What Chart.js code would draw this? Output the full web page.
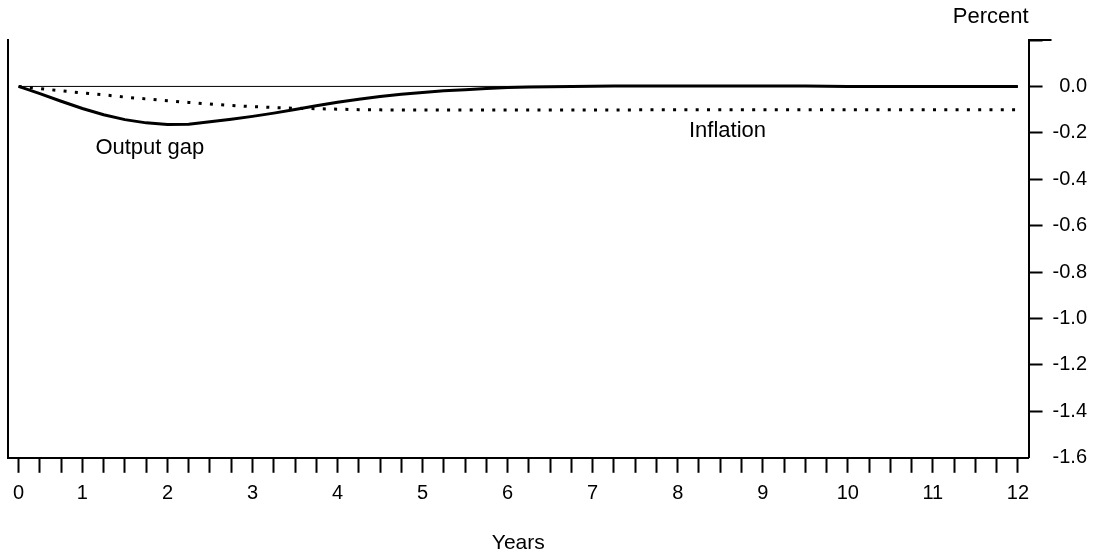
<!DOCTYPE html>
<html>
<head>
<meta charset="utf-8">
<script src="https://cdn.jsdelivr.net/npm/chart.js@4"></script>
<style>
  html, body { margin: 0; padding: 0; background: #fff; }
  #marco { width: 1102px; height: 556px; }
</style>
</head>
<body>
<div id="marco"><canvas id="grafico"></canvas></div>
<script>
// Datos trimestrales (1..48)
const quarters = [
  1, 2, 3, 4, 5, 6, 7, 8, 9, 10, 11, 12,
  13, 14, 15, 16, 17, 18, 19, 20, 21, 22, 23, 24,
  25, 26, 27, 28, 29, 30, 31, 32, 33, 34, 35, 36,
  37, 38, 39, 40, 41, 42, 43, 44, 45, 46, 47, 48
];

const outputGap = [
  0, -0.031, -0.064, -0.095, -0.122, -0.143, -0.157, -0.164, -0.163, -0.152, -0.141, -0.129,
  -0.115, -0.099, -0.083, -0.068, -0.055, -0.043, -0.034, -0.026, -0.019, -0.014, -0.009, -0.005,
  -0.003, -0.001, 0.000, 0.001, 0.002, 0.002, 0.002, 0.002, 0.002, 0.002, 0.002, 0.002,
  0.002, 0.002, 0.001, 0, 0, 0, 0, 0, 0, 0, 0, 0
];

const inflation = [
  0, -0.009, -0.019, -0.028, -0.036, -0.046, -0.054, -0.062, -0.069, -0.076, -0.082, -0.087,
  -0.091, -0.094, -0.096, -0.098, -0.100, -0.101, -0.102, -0.102, -0.102, -0.102, -0.102, -0.102,
  -0.102, -0.102, -0.102, -0.102, -0.102, -0.101, -0.101, -0.101, -0.101, -0.101, -0.101, -0.101,
  -0.101, -0.100, -0.100, -0.100, -0.100, -0.100, -0.100, -0.100, -0.100, -0.100, -0.100, -0.100
];

// Línea de cero (del primer al último trimestre)
const zeroLine = [{ x: 1, y: 0 }, { x: 48, y: 0 }];

// Eje vertical
const yMin = -1.6;
const yMax = 0.2;
const yStep = 0.2;

const negro = '#000';
const fuente = '"Liberation Sans", Arial, sans-serif';

Chart.defaults.font.family = fuente;
Chart.defaults.font.size = 20;
Chart.defaults.color = negro;

// Etiqueta de años: "0" en el primer trimestre, luego cada 4 trimestres
function etiquetaAnio(index) {
  if (index === 0) return '0';
  if ((index + 1) % 4 === 0) return String((index + 1) / 4);
  return '';
}

// Textos y remate superior del eje derecho
const notas = {
  id: 'notas',
  afterDraw(chart) {
    const { ctx, chartArea, scales } = chart;
    const x = scales.x;
    const y = scales.y;
    ctx.save();
    ctx.fillStyle = negro;
    ctx.font = '22px ' + fuente;
    ctx.textBaseline = 'middle';
    ctx.textAlign = 'left';
    ctx.fillText('Output gap', x.getPixelForValue(3.61), y.getPixelForValue(-0.266));
    ctx.fillText('Inflation', x.getPixelForValue(31.53), y.getPixelForValue(-0.193));
    ctx.textAlign = 'right';
    ctx.fillText('Percent', chartArea.right, 17);

    const yTop = y.getPixelForValue(yMax);
    ctx.strokeStyle = negro;
    ctx.lineWidth = 2;
    ctx.beginPath();
    ctx.moveTo(chartArea.right, yTop);
    ctx.lineTo(chartArea.right + 23, yTop);
    ctx.stroke();
    ctx.restore();
  }
};

const ctx = document.getElementById('grafico').getContext('2d');
const grafico = new Chart(ctx, {
  type: 'line',
  data: {
    labels: quarters,
    datasets: [
      {
        label: 'Output gap',
        data: outputGap,
        borderColor: negro,
        borderWidth: 3,
        pointRadius: 0,
        tension: 0,
        yAxisID: 'y',
      },
      {
        label: 'Inflation',
        data: inflation,
        borderColor: negro,
        borderWidth: 3,
        borderDash: [3, 8.3],
        borderCapStyle: 'butt',
        pointRadius: 0,
        tension: 0,
        yAxisID: 'y',
      },
      {
        label: 'cero',
        data: zeroLine,
        borderColor: negro,
        borderWidth: 1,
        pointRadius: 0,
        yAxisID: 'y',
      },
    ],
  },
  options: {
    responsive: true,
    maintainAspectRatio: false,
    animation: false,
    layout: {
      padding: { left: 8, top: 40, right: 15, bottom: 0 },
    },
    plugins: {
      legend: { display: false },
      tooltip: { enabled: false },
    },
    scales: {
      x: {
        type: 'category',
        position: 'bottom',
        offset: true,
        ticks: {
          autoSkip: false,
          maxRotation: 0,
          padding: 9,
          callback: (v, i) => etiquetaAnio(i),
        },
        grid: {
          offset: false,
          drawOnChartArea: false,
          tickLength: 15,
          tickWidth: 2,
          tickColor: negro,
        },
        border: { display: true, color: negro, width: 2 },
        title: {
          display: true,
          text: 'Years',
          font: { size: 21 },
          padding: { top: 16, bottom: 0 },
        },
      },
      y: {
        type: 'linear',
        position: 'right',
        min: yMin,
        max: yMax,
        ticks: {
          stepSize: yStep,
          padding: 5,
          crossAlign: 'far',
          callback: (v) => {
            if (v > yMax - 0.01) return '';
            if (Math.abs(v) < 1e-9) return '0.0';
            return v.toFixed(1);
          },
        },
        grid: {
          drawOnChartArea: false,
          tickLength: 14,
          tickWidth: 2,
          tickColor: (c) => (c.tick && c.tick.value < yMin + 0.01) ? 'rgba(0,0,0,0)' : negro,
        },
        border: { display: true, color: negro, width: 2 },
      },
      yl: {
        type: 'linear',
        position: 'left',
        min: yMin,
        max: yMax,
        ticks: { display: false },
        grid: { drawOnChartArea: false, drawTicks: false },
        border: { display: true, color: negro, width: 2 },
      },
    },
  },
  plugins: [notas],
});
</script>
</body>
</html>
